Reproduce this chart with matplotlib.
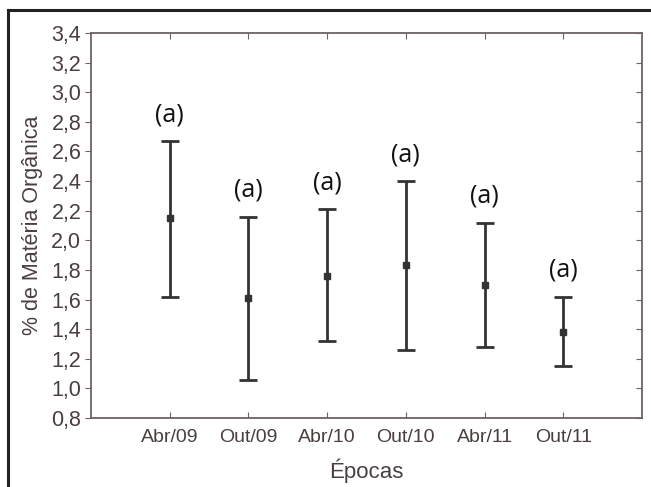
import matplotlib.pyplot as plt
from matplotlib.lines import Line2D
from matplotlib.ticker import FuncFormatter

epocas = ['Abr/09', 'Out/09', 'Abr/10', 'Out/10', 'Abr/11', 'Out/11']
medias = [2.15, 1.61, 1.76, 1.83, 1.70, 1.38]
superior = [2.67, 2.16, 2.21, 2.40, 2.12, 1.62]
inferior = [1.62, 1.06, 1.32, 1.26, 1.28, 1.15]
letras = ['(a)', '(a)', '(a)', '(a)', '(a)', '(a)']

eixo_cor = '#6e6262'
texto_cor = '#4a3f3f'
barra_cor = '#333333'

fig = plt.figure(figsize=(6.51, 4.87), dpi=100)
ax = fig.add_axes([91 / 651, 1 - 418 / 487, (642 - 91) / 651, (418 - 33) / 487])

x = list(range(1, len(epocas) + 1))
err_baixo = [m - i for m, i in zip(medias, inferior)]
err_cima = [s - m for m, s in zip(medias, superior)]
ax.errorbar(x, medias, yerr=[err_baixo, err_cima], fmt='s', color=barra_cor,
            ecolor=barra_cor, elinewidth=2, capsize=6.5, capthick=2, markersize=5)

for xi, s, letra in zip(x, superior, letras):
    ax.annotate(letra, (xi, s), xytext=(0, 10), textcoords='offset points',
                ha='center', va='bottom', fontsize=18, family='Open Sans', color='#111111')

ax.set_xlim(0, 7)
ax.set_ylim(0.8, 3.4)
ax.set_yticks([0.8 + 0.2 * k for k in range(14)])
ax.yaxis.set_major_formatter(FuncFormatter(lambda v, p: f'{v:.1f}'.replace('.', ',')))
ax.set_xticks(x)
ax.set_xticklabels(epocas)

ax.tick_params(axis='y', direction='out', length=4, color=eixo_cor, labelsize=15.5,
               labelcolor=texto_cor, right=True, pad=3)
ax.tick_params(axis='x', direction='in', length=4, color=eixo_cor, labelsize=14,
               labelcolor=texto_cor, top=True, pad=8)
for t in ax.yaxis.get_ticklines()[1::2]:
    t.set_marker(0)  # marcas da direita para dentro
for lab in ax.get_xticklabels() + ax.get_yticklabels():
    lab.set_family('Liberation Sans')

for sp in ax.spines.values():
    sp.set_color(eixo_cor)
    sp.set_linewidth(1.3)

ax.set_ylabel('% de Matéria Orgânica', fontsize=15.5, color=texto_cor,
              family='Liberation Sans', labelpad=6)
ax.set_xlabel('Épocas', fontsize=16, color=texto_cor, family='Liberation Sans', labelpad=9)

# moldura da figura
fig.add_artist(Line2D([8 / 651, 1], [1 - 10 / 487, 1 - 10 / 487], color='#222222', linewidth=2.2))
fig.add_artist(Line2D([8 / 651, 8 / 651], [0, 1 - 10 / 487], color='#222222', linewidth=2.2))

fig.savefig('out.png', dpi=100)
